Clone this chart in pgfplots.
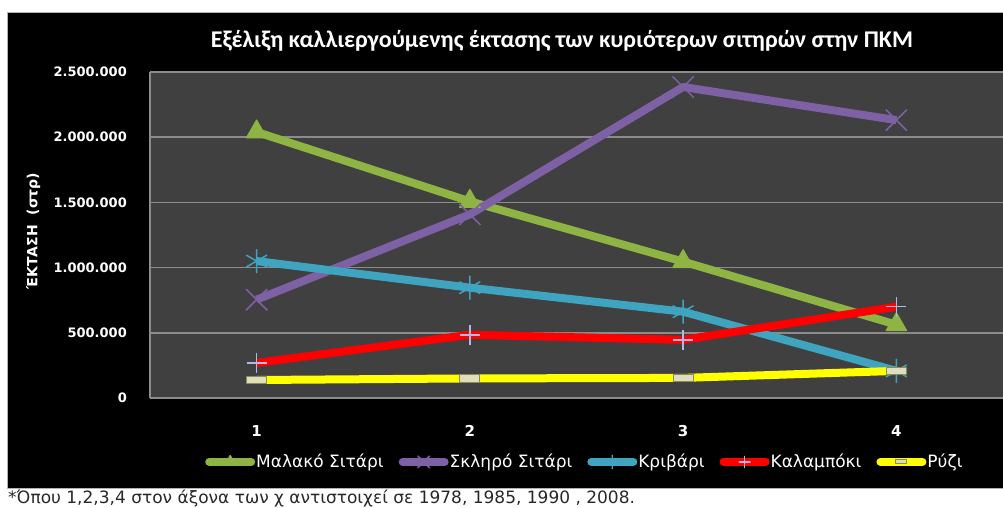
\documentclass[border=0pt]{standalone}
\usepackage{pgfplots}
\pgfplotsset{compat=1.18}
\usepackage{fontspec}
\setmainfont{DejaVu Sans}
\newfontfamily\titlefont{Carlito}
\definecolor{plotbg}{RGB}{64,64,64}
\definecolor{gridc}{RGB}{140,140,140}
\definecolor{mgreen}{RGB}{142,180,67}
\definecolor{mpurple}{RGB}{126,96,165}
\definecolor{mblue}{RGB}{62,164,192}
\definecolor{mred}{RGB}{255,0,0}
\definecolor{myellow}{RGB}{255,255,0}
\definecolor{pluscol}{RGB}{176,186,232}
\definecolor{dashfill}{RGB}{222,222,190}
\definecolor{dashdraw}{RGB}{140,140,80}
\definecolor{footc}{RGB}{40,40,40}
\begin{document}
\begin{tikzpicture}
\path[use as bounding box] (0,0) rectangle (1003pt,508pt);
\fill[white] (0,0) rectangle (1003pt,508pt);
\filldraw[fill=black, draw=gray!60, line width=0.8pt] (7pt,20pt) rectangle (1012pt,496pt);
\begin{axis}[
  at={(150pt,110pt)}, anchor=south west,
  scale only axis, width=853pt, height=326pt,
  xmin=0.5, xmax=4.5, ymin=0, ymax=2500000,
  xtick={1,2,3,4}, xticklabels={1,2,3,4},
  ytick={0,500000,1000000,1500000,2000000,2500000},
  yticklabels={0,500.000,1.000.000,1.500.000,2.000.000,2.500.000},
  scaled y ticks=false,
  clip=false,
  axis background/.style={fill=plotbg},
  axis lines*=left,
  axis line style={draw=gridc, line width=1.5pt, -},
  ymajorgrids, grid style={draw=gridc, line width=1.5pt},
  major tick length=0pt,
  tick label style={text=white},
  yticklabel style={anchor=east, inner sep=0pt, xshift=-23pt, font=\fontsize{13}{15}\selectfont\bfseries},
  xticklabel style={anchor=north, inner sep=0pt, yshift=-27pt, font=\fontsize{15}{17}\selectfont\bfseries},
  title={Εξέλιξη καλλιεργούμενης έκτασης των κυριότερων σιτηρών στην ΠΚΜ},
  title style={at={(axis description cs:0.483,1.058)}, anchor=base, inner sep=0pt, text=white, font=\titlefont\bfseries\fontsize{24}{28}\selectfont},
  ylabel={ΈΚΤΑΣΗ\ \ (στρ)},
  ylabel style={at={(axis description cs:-0.137,0.512)}, anchor=center, inner sep=0pt, text=white, font=\fontsize{14}{16}\selectfont\bfseries},
  legend columns=-1,
  legend style={at={(axis description cs:0.0645,-0.196)}, anchor=west, fill=none, draw=none, text=white, inner sep=0pt,
    font=\fontsize{17}{19}\selectfont,
    /tikz/every even column/.append style={column sep=14pt},
    nodes={inner sep=1pt}},
  legend image code/.code={\draw[mark repeat=2, mark phase=2, line cap=round, #1, /tikz/every mark/.append style={scale=0.55}] plot coordinates {(4pt,0pt) (25pt,0pt) (46pt,0pt)};},
  every axis plot/.append style={line width=8pt, line join=round},
]
\addplot[mgreen, mark=triangle*, mark size=12pt, mark options={fill=mgreen, draw=mgreen, line width=1pt}]
  coordinates {(1,2040000) (2,1508000) (3,1046000) (4,562000)};
\addlegendentry{Μαλακό Σιτάρι}
\addplot[mpurple, mark=x, mark size=15pt, mark options={draw=mpurple, line width=1.5pt}]
  coordinates {(1,754000) (2,1408000) (3,2385000) (4,2131000)};
\addlegendentry{Σκληρό Σιτάρι}
\addplot[mblue, mark=asterisk, mark size=12pt, mark options={draw=mblue, line width=1.5pt}]
  coordinates {(1,1050000) (2,846000) (3,662000) (4,208000)};
\addlegendentry{Κριβάρι}
\addplot[mred, mark=+, mark size=10pt, mark options={draw=pluscol, line width=1.5pt}]
  coordinates {(1,269000) (2,485000) (3,446000) (4,700000)};
\addlegendentry{Καλαμπόκι}
\addplot[myellow, mark=square*, mark size=8pt, mark options={fill=dashfill, draw=dashdraw, line width=1pt, xscale=1.25, yscale=0.45}]
  coordinates {(1,138000) (2,150000) (3,154000) (4,208000)};
\addlegendentry{Ρύζι}
\end{axis}
\node[anchor=base west, inner sep=0pt, text=footc, font=\fontsize{17}{19}\selectfont] at (8pt,4pt) {*Όπου 1,2,3,4 στον άξονα των χ αντιστοιχεί σε 1978, 1985, 1990 , 2008.};
\end{tikzpicture}
\end{document}
